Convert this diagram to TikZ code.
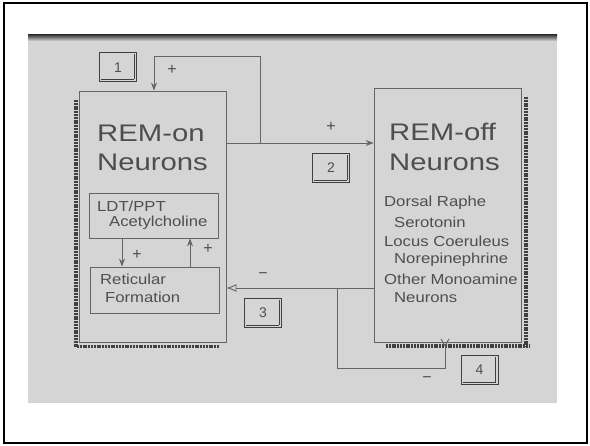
\documentclass[tikz,border=0pt]{standalone}
\usepackage{graphicx}
\usepackage{fontspec}
\setmainfont{Liberation Sans}
\usetikzlibrary{arrows.meta}
\definecolor{photo}{HTML}{D5D5D5}
\definecolor{ink}{HTML}{4E4E4E}
\definecolor{lin}{HTML}{656565}
\definecolor{band}{HTML}{404040}
\newcommand\wideB[1]{\scalebox{1.22}[1]{#1}}
\newcommand\wideS[1]{\scalebox{1.15}[1]{#1}}
\tikzset{
  box/.style={draw=lin, line width=0.8pt, rectangle, inner sep=0pt},
  numbox/.style={draw=band, line width=1pt, rectangle, inner sep=0pt, minimum width=37pt, minimum height=29pt, font=\fontsize{14}{14}\selectfont, text=ink},
  big/.style={anchor=west, inner sep=0pt, text=ink, font=\fontsize{24}{24}\selectfont},
  small/.style={anchor=west, inner sep=0pt, text=ink, font=\fontsize{14.5}{14.5}\selectfont},
  sign/.style={inner sep=0pt, text=ink, font=\fontsize{16}{16}\selectfont},
  conn/.style={draw=lin, line width=0.9pt},
  arr/.style={conn, -{Stealth[length=8pt,width=6pt]}},
  harr/.style={conn, -{Latex[open,length=10pt,width=8pt]}},
  yarr/.style={conn, -{Straight Barb[reversed,length=7pt,width=8pt]}},
  darkband/.style={draw=band, line width=3.5pt, dash pattern=on 2pt off 0.8pt},
}
\begin{document}
\begin{tikzpicture}[x=1pt,y=-1pt]
\useasboundingbox (0,0) rectangle (590,446);
\fill[white] (0,0) rectangle (590,446);
\draw[black, line width=2pt] (4,3) rectangle (587,443);
% photo background
\fill[photo] (28,35) rectangle (557,403);
\shade[top color=band, bottom color=photo] (28,35) rectangle (557,41);

% main boxes
\node[box, minimum width=147pt, minimum height=251pt] (on) at (152.5,216.5) {};
\node[box, minimum width=147pt, minimum height=254pt] (off) at (447.5,215) {};
\node[box, minimum width=129pt, minimum height=45pt] (ldt) at (153.5,215.5) {};
\node[box, minimum width=129pt, minimum height=46pt] (ret) at (154.5,290) {};

% dark scan edges
\draw[darkband] (76,100) -- (76,347);
\draw[darkband] (77,346.5) -- (219,346.5);
\draw[darkband] (526,97) -- (526,347);
\draw[darkband] (386,346) -- (530,346);

% texts
\node[big] (t1) at (97,133) {\wideB{REM-on}};
\node[big] (t2) at (97,162) {\wideB{Neurons}};
\node[big] (t3) at (389,132) {\wideB{REM-off}};
\node[big] (t4) at (389,162) {\wideB{Neurons}};
\node[small] (t5) at (97,206) {\wideS{LDT/PPT}};
\node[small] (t6) at (109,223) {\wideS{Acetylcholine}};
\node[small] (t7) at (100,279) {\wideS{Reticular}};
\node[small] (t8) at (105,297) {\wideS{Formation}};
\node[small] (t9) at (384,203) {\wideS{Dorsal Raphe}};
\node[small] (t10) at (394,222) {\wideS{Serotonin}};
\node[small] (t11) at (384,241) {\wideS{Locus Coeruleus}};
\node[small] (t12) at (394,260) {\wideS{Norepinephrine}};
\node[small] (t13) at (384,279) {\wideS{Other Monoamine}};
\node[small] (t14) at (394,298) {\wideS{Neurons}};

% number boxes
\node[numbox] (b1) at (118,67.5) {1};
\node[numbox] (b2) at (331,168) {2};
\node[numbox] (b3) at (263,313) {3};
\node[numbox] (b4) at (479.5,370) {4};
\foreach \b in {b1,b2,b3,b4}{
  \draw[band, line width=0.8pt] ([xshift=-3pt,yshift=-2pt]\b.north east) -- ([xshift=-3pt,yshift=3pt]\b.south east);
  \draw[band, line width=0.8pt] ([xshift=2pt,yshift=3pt]\b.south west) -- ([xshift=-3pt,yshift=3pt]\b.south east);
}

% connectors
\coordinate (ymain) at (0,143);
\coordinate (j1) at (260,143);
\coordinate (c1) at (154,56);
\coordinate (xa) at (122,0);
\coordinate (xb) at (190,0);
\coordinate (y3) at (0,288);
\coordinate (j2) at (337,288);
\coordinate (c4) at (445,368);

\draw[arr] (on.east |- ymain) -- (off.west |- ymain);
\draw[arr] (j1) |- (c1) -- (on.north -| c1);
\draw[arr] (ldt.south -| xa) -- (ret.north -| xa);
\draw[arr] (ret.north -| xb) -- (ldt.south -| xb);
\draw[harr] (off.west |- y3) -- (on.east |- y3);
\draw[yarr] (j2) |- (c4) -- ([yshift=4pt]off.south -| c4);

% signs
\node[sign] (p1) at (172,70) {+};
\node[sign] (p2) at (331,127) {+};
\node[sign] (p3) at (137,255) {+};
\node[sign] (p4) at (208,249) {+};
\node[sign] (m3) at (263,276) {−};
\node[sign] (m4) at (427,380) {−};
\end{tikzpicture}
\end{document}
